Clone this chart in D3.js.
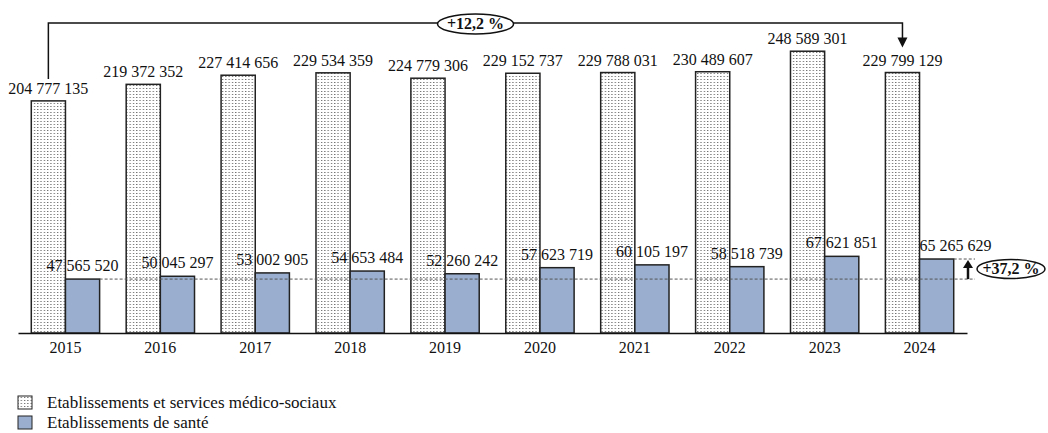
<!DOCTYPE html>
<html><head><meta charset="utf-8">
<script src="https://cdn.jsdelivr.net/npm/d3@7"></script>
<style>body{margin:0;background:#fff}svg{display:block}</style>
</head><body><svg id="c" width="1048" height="433"></svg>
<script>
const years = ["2015","2016","2017","2018","2019","2020","2021","2022","2023","2024"];
const medicoSocial = [204777135,219372352,227414656,229534359,224779306,229152737,229788031,230489607,248589301,229799129];
const sante = [47565520,50045297,53002905,54653484,52260242,57623719,60105197,58518739,67621851,65265629];
const seriesNames = ["Etablissements et services médico-sociaux","Etablissements de santé"];
const annotTop = "+12,2 %";
const annotRight = "+37,2 %";

const FONT = "Liberation Serif";
const fmt = v => String(v).replace(/\B(?=(\d{3})+(?!\d))/g, " ");
const svg = d3.select("#c");
const defs = svg.append("defs");
const pat = defs.append("pattern").attr("id","dots").attr("patternUnits","userSpaceOnUse")
  .attr("width",3.3).attr("height",3).attr("x",0).attr("y",0);
pat.append("rect").attr("width",3.3).attr("height",3).attr("fill","#fff");
pat.append("rect").attr("x",1).attr("y",1).attr("width",1).attr("height",1).attr("fill","#444");

const base = 333;
const x0 = d3.scaleBand().domain(years).range([18,967]).paddingInner(0.28).paddingOuter(0.14);
const x1 = d3.scaleBand().domain([0,1]).range([0,x0.bandwidth()]);
const y = d3.scaleLinear().domain([0,250e6]).range([base, base-1.1335*250]);
const blue = "#9aafcf";

function txt(sel){ return sel.append("text").attr("font-family",FONT).attr("fill","#111"); }

const g = svg.append("g");
years.forEach((yr,i)=>{
  const gx = x0(yr);
  g.append("rect").attr("x",gx+x1(0)).attr("y",y(medicoSocial[i])).attr("width",x1.bandwidth()).attr("height",base-y(medicoSocial[i]))
    .attr("fill","url(#dots)").attr("stroke","#222").attr("stroke-width",1.5);
  g.append("rect").attr("x",gx+x1(1)).attr("y",y(sante[i])).attr("width",x1.bandwidth()).attr("height",base-y(sante[i]))
    .attr("fill",blue).attr("stroke","#222").attr("stroke-width",1.5);
});
years.forEach((yr,i)=>{
  const gx = x0(yr);
  txt(g).attr("x",gx+x1(0)+x1.bandwidth()/2).attr("y",y(medicoSocial[i])-7).attr("text-anchor","middle")
    .attr("font-size",16).text(fmt(medicoSocial[i]));
  const last = i===years.length-1;
  txt(g).attr("x", last ? gx+x1(1) : gx+x1(1)+x1.bandwidth()/2).attr("y",y(sante[i])-8)
    .attr("text-anchor", last ? "start" : "middle").attr("font-size",16).text(fmt(sante[i]));
});

// axis
const ax = svg.append("g").attr("transform",`translate(0,${base})`).call(d3.axisBottom(x0).tickSize(0).tickPadding(9));
ax.attr("font-family",FONT);
ax.select(".domain").attr("stroke","#111").attr("stroke-width",1.5);
ax.selectAll("text").attr("font-size",16).attr("font-family",FONT).attr("fill","#111");

// dashed reference lines
const refY = y(sante[0]);
const lastX = x0(years[9]);
svg.append("line").attr("x1",x0(years[0])+x1(1)+x1.bandwidth()).attr("x2",975).attr("y1",refY).attr("y2",refY)
  .attr("stroke","#555").attr("stroke-width",1).attr("stroke-dasharray","3,2");
svg.append("line").attr("x1",lastX+x1(1)+x1.bandwidth()).attr("x2",975).attr("y1",y(sante[9])).attr("y2",y(sante[9]))
  .attr("stroke","#555").attr("stroke-width",1).attr("stroke-dasharray","3,2");

// top bracket
const xa = x0(years[0])+x1(0)+x1.bandwidth()/2, xb = lastX+x1(0)+x1.bandwidth()/2, yTop = 23;
svg.append("path").attr("d",`M${xa},${y(medicoSocial[0])-22}V${yTop}H${xb}V${y(medicoSocial[9])-34}`)
  .attr("fill","none").attr("stroke","#111").attr("stroke-width",1.5);
svg.append("path").attr("d",`M${xb-5},${y(medicoSocial[9])-35}L${xb+5},${y(medicoSocial[9])-35}L${xb},${y(medicoSocial[9])-25}Z`).attr("fill","#111");
const ex = 475.5;
svg.append("ellipse").attr("cx",ex).attr("cy",yTop+1).attr("rx",38).attr("ry",10).attr("fill","#fff").attr("stroke","#111").attr("stroke-width",1.5);
txt(svg).attr("x",ex).attr("y",yTop+6).attr("text-anchor","middle").attr("font-size",16).attr("font-weight","bold").text(annotTop);

// right arrow
const ax2 = 968;
svg.append("line").attr("x1",ax2).attr("x2",ax2).attr("y1",refY).attr("y2",y(sante[9])+8).attr("stroke","#111").attr("stroke-width",2.5);
svg.append("path").attr("d",`M${ax2-5},${y(sante[9])+9}L${ax2+5},${y(sante[9])+9}L${ax2},${y(sante[9])+1}Z`).attr("fill","#111");
svg.append("ellipse").attr("cx",1011).attr("cy",269).attr("rx",34).attr("ry",9.5).attr("fill","#fff").attr("stroke","#111").attr("stroke-width",1.5);
txt(svg).attr("x",1011).attr("y",274).attr("text-anchor","middle").attr("font-size",16).attr("font-weight","bold").text(annotRight);

// legend
const leg = svg.append("g");
seriesNames.forEach((n,i)=>{
  const ly = 396 + i*20;
  leg.append("rect").attr("x",18).attr("y",ly).attr("width",14).attr("height",13)
    .attr("fill", i===0 ? "url(#dots)" : blue).attr("stroke","#222").attr("stroke-width",1);
  txt(leg).attr("x",47).attr("y",ly+12).attr("font-size",17).text(n);
});
</script></body></html>
